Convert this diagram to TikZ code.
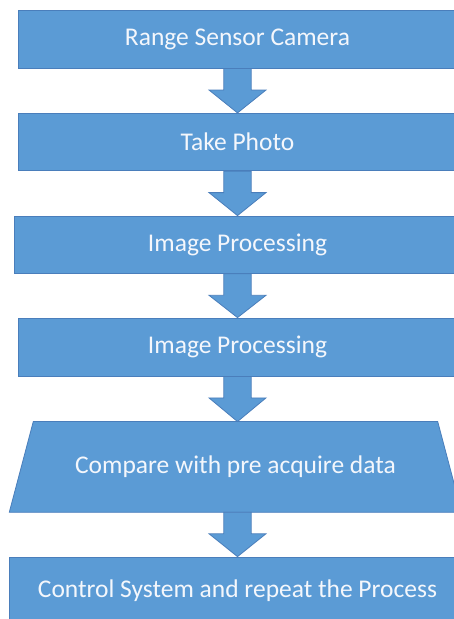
\documentclass[tikz,border=0pt]{standalone}
\usepackage{fontspec}
\setmainfont{Carlito}
\usetikzlibrary{calc,backgrounds}
\definecolor{boxblue}{HTML}{5B9BD5}
\definecolor{boxedge}{HTML}{4A7EBB}
\definecolor{txtwhite}{HTML}{F4F7FC}
\tikzset{
  stepbox/.style={draw=boxedge, line width=0.8pt, fill=boxblue, text=txtwhite,
    rectangle, inner sep=0pt, minimum height=57.4pt,
    font=\fontsize{25.5}{30}\selectfont},
  traptext/.style={text=txtwhite, rectangle, inner sep=0pt,
    minimum width=404pt, minimum height=90.3pt,
    font=\fontsize{25.5}{30}\selectfont},
  trapfill/.style={draw=boxedge, line width=0.8pt, fill=boxblue, line join=miter},
  blockarrow/.style={draw=boxedge, line width=0.8pt, fill=boxblue, line join=miter}
}
\newcommand{\blkarrow}[2]{%
  \draw[blockarrow] (#1.south -| ax) ++(-13.7,0) -- ++(0,21.5) -- ++(-14.8,0)
    -- (#2.north -| ax) -- ($(#1.south -| ax)+(28.5,21.5)$) -- ++(-14.8,0)
    -- ++(0,-21.5) -- cycle;}
\begin{document}
\begin{tikzpicture}[x=1pt,y=-1pt]
\useasboundingbox (0,0) rectangle (454,619);
\clip (0,0) rectangle (454,619);
\coordinate (ax) at (237.5,0);
\node[stepbox, minimum width=439pt] (b1) at (237.5,39.4) {Range Sensor Camera};
\node[stepbox, minimum width=439pt] (b2) at (237.5,142) {Take Photo};
\node[stepbox, minimum width=447pt] (b3) at (237.5,244.7) {Image Processing};
\node[stepbox, minimum width=439pt, minimum height=58pt] (b4) at (237.5,347) {Image Processing};
\node[traptext] (b5) at (235.5,466.9) {Compare with pre acquire data};
\begin{pgfonlayer}{background}
  \draw[trapfill] (b5.north west) -- (b5.north east) -- ($(b5.south east)+(24,0)$)
    -- ($(b5.south west)+(-24,0)$) -- cycle;
\end{pgfonlayer}
\node[stepbox, minimum width=456pt, minimum height=68pt] (b6) at (237.5,591) {Control System and repeat the Process};
\blkarrow{b1}{b2}
\blkarrow{b2}{b3}
\blkarrow{b3}{b4}
\blkarrow{b4}{b5}
\blkarrow{b5}{b6}
\end{tikzpicture}
\end{document}
